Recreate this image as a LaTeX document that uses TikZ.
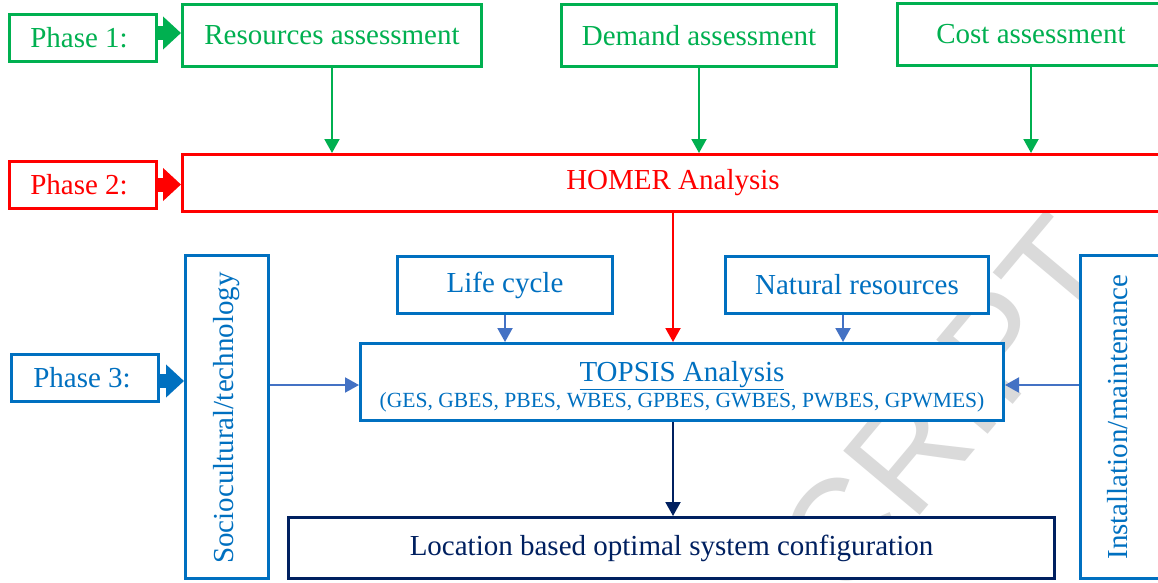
\documentclass[tikz,border=0pt]{standalone}
\usepackage{fontspec}
\setmainfont{Liberation Serif}
\newfontfamily\wmfont{Liberation Sans}
\usetikzlibrary{arrows.meta,calc}
\definecolor{pgreen}{HTML}{00B050}
\definecolor{pred}{HTML}{FF0000}
\definecolor{pblue}{HTML}{0070C0}
\definecolor{lblue}{HTML}{4472C4}
\definecolor{pnavy}{HTML}{002060}
\definecolor{wmgray}{HTML}{DADADA}
\begin{document}
\begin{tikzpicture}[x=1pt,y=-1pt,
  box/.style={draw,line width=3pt,fill=white,inner sep=0pt,font=\fontsize{29}{34}\selectfont},
  gbox/.style={box,draw=pgreen,text=pgreen},
  rbox/.style={box,draw=pred,text=pred},
  bbox/.style={box,draw=pblue,text=pblue},
  nbox/.style={box,draw=pnavy,text=pnavy},
  vtext/.style={rotate=90,inner sep=0pt,font=\fontsize{29}{34}\selectfont,text=pblue},
  conn/.style={line width=2pt,-{Triangle[width=15pt,length=14pt]}},
  phasearrow/.style={line width=14pt,-{Triangle[width=32pt,length=18pt]}},
  watermark/.style={rotate=50,anchor=base west,inner sep=0pt,text=wmgray,font=\wmfont\fontsize{145}{145}\selectfont}
]
\useasboundingbox (0,0) rectangle (1158,583);
\clip (0,0) rectangle (1158,583);
\fill[white] (0,0) rectangle (1158,583);

% watermark (behind the boxes)
\node[watermark] (wm) at (845,605) {CRIPT};

% phase 1
\node[gbox,minimum width=147,minimum height=47] (p1) at (83,38) {\hspace*{-8pt}Phase 1:};
\node[gbox,minimum width=299,minimum height=62] (res) at (332,35.5) {Resources assessment};
\node[gbox,minimum width=275,minimum height=62] (dem) at (699,35.5) {Demand assessment};
\node[gbox,minimum width=267,minimum height=62] (cost) at (1031,34.5) {Cost assessment};

% phase 2
\node[rbox,minimum width=147,minimum height=47] (p2) at (83,185) {\hspace*{-8pt}Phase 2:};
\node[rbox,minimum width=981,minimum height=57] (homer) at (673,183) {HOMER Analysis};

% phase 3
\node[bbox,minimum width=147,minimum height=47] (p3) at (85,378) {\hspace*{-6pt}Phase 3:};
\node[bbox,minimum width=83,minimum height=323] (soc) at (227,417) {};
\node[vtext] (soct) at (227,418) {Sociocultural/technology};
\node[bbox,minimum width=215,minimum height=57] (life) at (505,285) {Life cycle};
\node[bbox,minimum width=263,minimum height=57] (nat) at (857,285) {Natural resources};
\node[bbox,minimum width=643,minimum height=77] (top) at (682,382) {};
\node[align=center,inner sep=0pt,text=pblue,font=\fontsize{29}{34}\selectfont] (topt) at (682,387)
  {\underline{TOPSIS Analysis}\\[-8pt]{\fontsize{21.6}{26}\selectfont (GES, GBES, PBES, WBES, GPBES, GWBES, PWBES, GPWMES)}};
\node[bbox,minimum width=87,minimum height=323] (inst) at (1124,417) {};
\node[vtext] (instt) at (1118,417) {Installation/maintenance};
\node[nbox,minimum width=766,minimum height=61] (loc) at (671.5,548) {Location based optimal system configuration};

% phase arrows
\coordinate (a1) at (0,33);
\coordinate (a2) at (0,184.5);
\coordinate (a3) at (0,381);
\draw[phasearrow,pgreen] (p1.east |- a1) -- (res.west |- a1);
\draw[phasearrow,pred] (p2.east |- a2) -- (homer.west |- a2);
\draw[phasearrow,pblue] (p3.east |- a3) -- (soc.west |- a3);

% phase 1 -> homer
\draw[conn,pgreen] (res.south) -- (res.south |- homer.north);
\draw[conn,pgreen] (dem.south) -- (dem.south |- homer.north);
\draw[conn,pgreen] (cost.south) -- (cost.south |- homer.north);

% homer -> topsis
\draw[conn,pred] (homer.south) -- (homer.south |- top.north);

% criteria -> topsis
\coordinate (natx) at ([xshift=-14pt]nat.south);
\coordinate (ty) at ([yshift=-3pt]top.west);
\draw[conn,lblue] (life.south) -- (life.south |- top.north);
\draw[conn,lblue] (natx) -- (natx |- top.north);
\draw[conn,lblue] (soc.east |- ty) -- (top.west |- ty);
\draw[conn,lblue] (inst.west |- ty) -- (top.east |- ty);

% topsis -> location
\draw[conn,pnavy] (homer.south |- top.south) -- (homer.south |- loc.north);
\end{tikzpicture}
\end{document}
